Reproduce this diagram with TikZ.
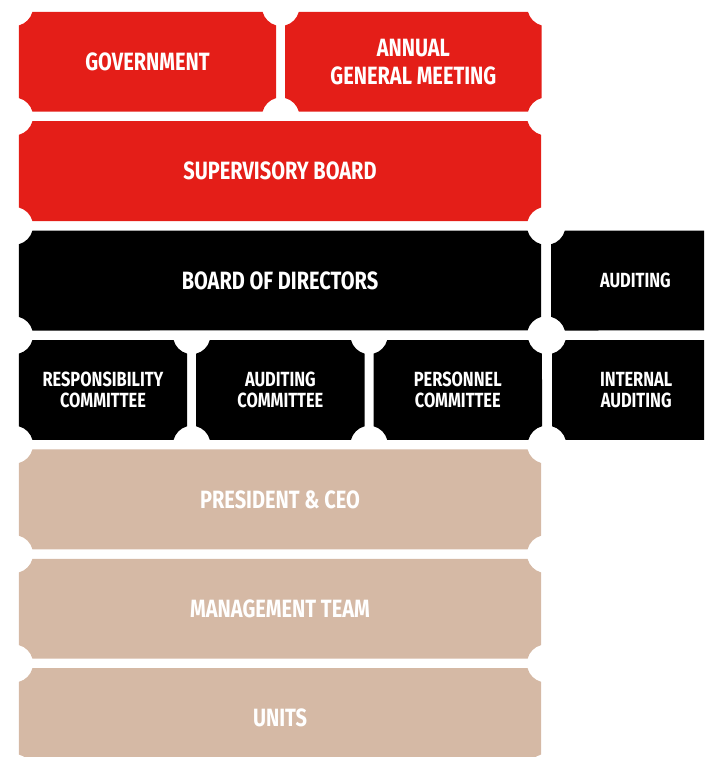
\documentclass[tikz,border=0pt]{standalone}
\usepackage{fontspec}
\setmainfont{Fira Sans}[FakeStretch=0.8]
\usetikzlibrary{positioning, calc, backgrounds}
\definecolor{govred}{RGB}{228, 30, 24}
\definecolor{boardblack}{RGB}{0, 0, 0}
\definecolor{staffbeige}{RGB}{213, 185, 165}

% ticket outline (corners cut by circles) filled behind a named node
\newcommand{\notchbox}[2]{%
  \fill[#1] ($(#2.north west)+(13.65,0)$) -- ($(#2.north east)+(-13.65,0)$)
    arc[start angle=194.5, end angle=255.5, radius=19]
    -- ($(#2.south east)+(0,13.65)$)
    arc[start angle=104.5, end angle=165.5, radius=19]
    -- ($(#2.south west)+(13.65,0)$)
    arc[start angle=14.5, end angle=75.5, radius=19]
    -- ($(#2.north west)+(0,-13.65)$)
    arc[start angle=284.5, end angle=345.5, radius=19]
    -- cycle;}

\begin{document}
\begin{tikzpicture}[
    x=1pt, y=1pt,
    node distance=9.5pt,
    % box text
    ticket/.style={
        rectangle, inner sep=0pt, minimum height=99.5pt,
        align=center, text=white,
        font=\bfseries\fontsize{25}{28}\selectfont
    },
    smallticket/.style={ticket, font=\bfseries\fontsize{20.5}{21}\selectfont},
]
\useasboundingbox (0,0) rectangle (706,-757);

% ==================== owners ====================
\node[ticket, minimum width=257pt] (gov) at (147.5,-61.75) {GOVERNMENT};
\node[ticket, minimum width=256pt, right=9pt of gov] (agm) {ANNUAL\\GENERAL MEETING};
\node[ticket, minimum width=522pt, below right=9.5pt and 0pt of gov.south west] (super) {SUPERVISORY BOARD};

% ==================== board ====================
\node[ticket, minimum width=522pt, below right=9.5pt and 0pt of super.south west] (board) {BOARD OF DIRECTORS};
\node[smallticket, minimum width=168pt, right=10pt of board] (audit) {AUDITING};

\node[smallticket, minimum width=168pt, below right=9.5pt and 0pt of board.south west] (resp) {RESPONSIBILITY\\COMMITTEE};
\node[smallticket, minimum width=168pt, right=9pt of resp] (auditcom) {AUDITING\\COMMITTEE};
\node[smallticket, minimum width=168pt, right=9pt of auditcom] (staff) {PERSONNEL\\COMMITTEE};
\node[smallticket, minimum width=168pt, right=10pt of staff] (internal) {INTERNAL\\AUDITING};

% ==================== management ====================
\node[ticket, minimum width=522pt, below right=9.5pt and 0pt of resp.south west] (ceo) {PRESIDENT \& CEO};
\node[ticket, minimum width=522pt, below right=9.5pt and 0pt of ceo.south west] (mgmt) {MANAGEMENT TEAM};
\node[ticket, minimum width=522pt, below right=9.5pt and 0pt of mgmt.south west] (units) {UNITS};

% ==================== box fills ====================
\begin{scope}[on background layer]
    \clip (0,0) rectangle (704,-757);
    \foreach \n/\c in {gov/govred, agm/govred, super/govred,
                       board/boardblack, audit/boardblack, resp/boardblack,
                       auditcom/boardblack, staff/boardblack, internal/boardblack,
                       ceo/staffbeige, mgmt/staffbeige, units/staffbeige}
        {\notchbox{\c}{\n}}
\end{scope}

\end{tikzpicture}
\end{document}
